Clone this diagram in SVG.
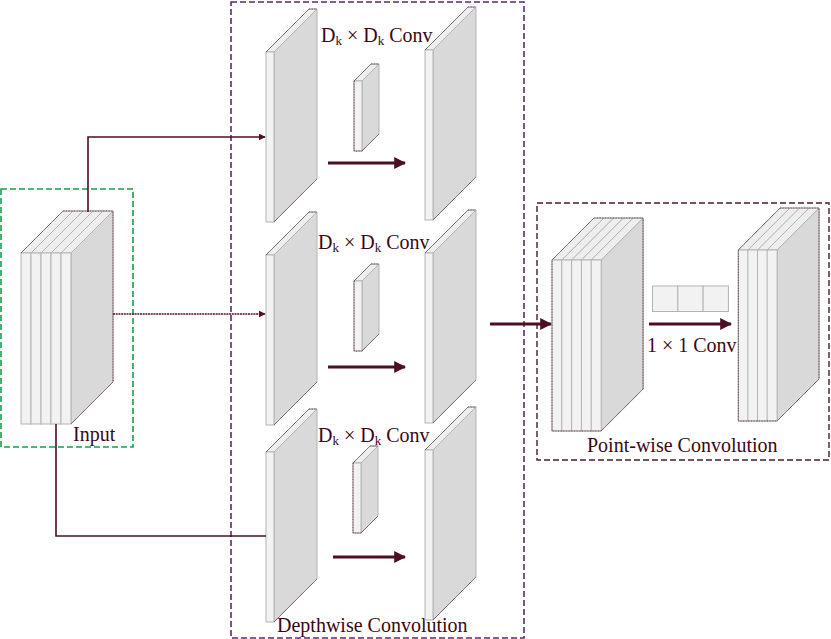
<svg xmlns="http://www.w3.org/2000/svg" xmlns:xlink="http://www.w3.org/1999/xlink" width="831" height="639" viewBox="0 0 831 639">
<style>
.front{fill:#f2f2f2;stroke:#b3b3b3;stroke-width:1}
.top{fill:#eeeeee;stroke:#b3b3b3;stroke-width:1}
.side{fill:#d9d9d9;stroke:#b3b3b3;stroke-width:1}
.edge{fill:none;stroke:#4a1a30;stroke-width:0.8;stroke-dasharray:1 0.6}
.lbl{font-family:"Liberation Serif","Times New Roman",serif;font-size:20px;fill:#3a0816}
.sub{font-size:13px}
.conn{fill:none;stroke:#4d0f22;stroke-width:1.6}
.thick{fill:none;stroke:#4d0f22;stroke-width:3}
.box-green{fill:none;stroke:#12a04a;stroke-width:1.6;stroke-dasharray:6 3}
.box-purple{fill:none;stroke:#5c2a6e;stroke-width:1.6;stroke-dasharray:6 3}
.box-maroon{fill:none;stroke:#4a1a30;stroke-width:1.4;stroke-dasharray:6 3}
</style>
<defs>
<marker id="ah" viewBox="0 0 10 10" refX="9" refY="5" markerWidth="7" markerHeight="7" markerUnits="userSpaceOnUse" orient="auto">
<path d="M0,0 L10,5 L0,10 z" fill="#4d0f22"/>
</marker>
<marker id="ahb" viewBox="0 0 10 10" refX="9" refY="5" markerWidth="4" markerHeight="4" orient="auto">
<path d="M0,0 L10,5 L0,10 z" fill="#4d0f22"/>
</marker>
<g id="plate">
<polygon class="side" points="8,0 51,-43 51,127 8,170"/>
<polygon class="top" points="0,0 8,0 51,-43 43,-43"/>
<rect class="front" x="0" y="0" width="8" height="170"/>
<path class="edge" d="M0,0 L43,-43 L51,-43 M8,170 L51,127"/>
</g>
<g id="kernel">
<polygon class="side" points="8,0 25,-17 25,53 8,70"/>
<polygon class="top" points="0,0 8,0 25,-17 17,-17"/>
<rect class="front" x="0" y="0" width="8" height="70"/>
<path class="edge" d="M0,0 L17,-17 L25,-17 M8,70 L25,53 M0,0 V70 H8"/>
</g>
<g id="layer">
<polygon class="side" points="10,0 52,-42 52,129 10,171"/>
<polygon class="top" points="0,0 10,0 52,-42 42,-42"/>
<rect class="front" x="0" y="0" width="10" height="171"/>
</g>
</defs>

<g id="input">
<rect class="box-green" x="1" y="189" width="132" height="258"/>
<use xlink:href="#layer" x="21" y="253"/>
<use xlink:href="#layer" x="31" y="253"/>
<use xlink:href="#layer" x="41" y="253"/>
<use xlink:href="#layer" x="51" y="253"/>
<use xlink:href="#layer" x="61" y="253"/>
<path class="edge" d="M21,253 L63,211 H113 V382 L71,424"/>
<text class="lbl" x="73" y="441">Input</text>
</g>

<g id="depthwise">
<rect class="box-purple" x="231" y="2" width="293" height="636"/>
<text class="lbl" x="277" y="632">Depthwise Convolution</text>
</g>

<g id="dw1">
<use xlink:href="#plate" x="266" y="52"/>
<use xlink:href="#kernel" x="354" y="81"/>
<use xlink:href="#plate" x="425" y="50"/>
<text class="lbl" x="321" y="42">D<tspan class="sub" dy="3">k</tspan><tspan dy="-3"> × D</tspan><tspan class="sub" dy="3">k</tspan><tspan dy="-3"> Conv</tspan></text>
</g>

<g id="dw2">
<use xlink:href="#plate" x="266" y="255"/>
<use xlink:href="#kernel" x="354" y="281"/>
<use xlink:href="#plate" x="425" y="253"/>
<text class="lbl" x="318" y="249">D<tspan class="sub" dy="3">k</tspan><tspan dy="-3"> × D</tspan><tspan class="sub" dy="3">k</tspan><tspan dy="-3"> Conv</tspan></text>
</g>

<g id="dw3">
<use xlink:href="#plate" x="266" y="452"/>
<use xlink:href="#kernel" x="353" y="463"/>
<use xlink:href="#plate" x="425" y="450"/>
<text class="lbl" x="318" y="442">D<tspan class="sub" dy="3">k</tspan><tspan dy="-3"> × D</tspan><tspan class="sub" dy="3">k</tspan><tspan dy="-3"> Conv</tspan></text>
</g>

<g id="pointwise">
<rect class="box-maroon" x="537" y="203" width="292" height="257"/>
<use xlink:href="#layer" x="552" y="260"/>
<use xlink:href="#layer" x="561.8" y="260"/>
<use xlink:href="#layer" x="571.6" y="260"/>
<use xlink:href="#layer" x="581.4" y="260"/>
<use xlink:href="#layer" x="591.2" y="260"/>
<path class="edge" d="M552,260 L594,218 H643 V389 L601,431 H552 Z"/>
<use xlink:href="#layer" x="738.3" y="250"/>
<use xlink:href="#layer" x="747.9" y="250"/>
<use xlink:href="#layer" x="757.5" y="250"/>
<use xlink:href="#layer" x="767.1" y="250"/>
<path class="edge" d="M738.3,250 L780,208 H819 V379 L777,421 H738.3 Z"/>
<g id="kernel1x1">
<rect class="front" x="652.5" y="286" width="25.3" height="25.5"/>
<rect class="front" x="677.8" y="286" width="25.3" height="25.5"/>
<rect class="front" x="703.1" y="286" width="25.3" height="25.5"/>
</g>
<text class="lbl" x="647" y="352">1 × 1 Conv</text>
<text class="lbl" x="587" y="452">Point-wise Convolution</text>
</g>

<g id="connectors">
<path class="conn" d="M88,212 V137 H265" marker-end="url(#ah)"/>
<path class="conn" d="M113,314 H265" stroke-width="2.4" stroke-dasharray="2 0.7" marker-end="url(#ah)"/>
<path class="conn" d="M56,424 V536 H266"/>
<path class="thick" d="M328,163 H405" marker-end="url(#ahb)"/>
<path class="thick" d="M328,367 H405" marker-end="url(#ahb)"/>
<path class="thick" d="M333,557 H405" marker-end="url(#ahb)"/>
<path class="thick" d="M490,324 H551" marker-end="url(#ahb)"/>
<path class="thick" d="M649,324 H731" marker-end="url(#ahb)"/>
</g>
</svg>
